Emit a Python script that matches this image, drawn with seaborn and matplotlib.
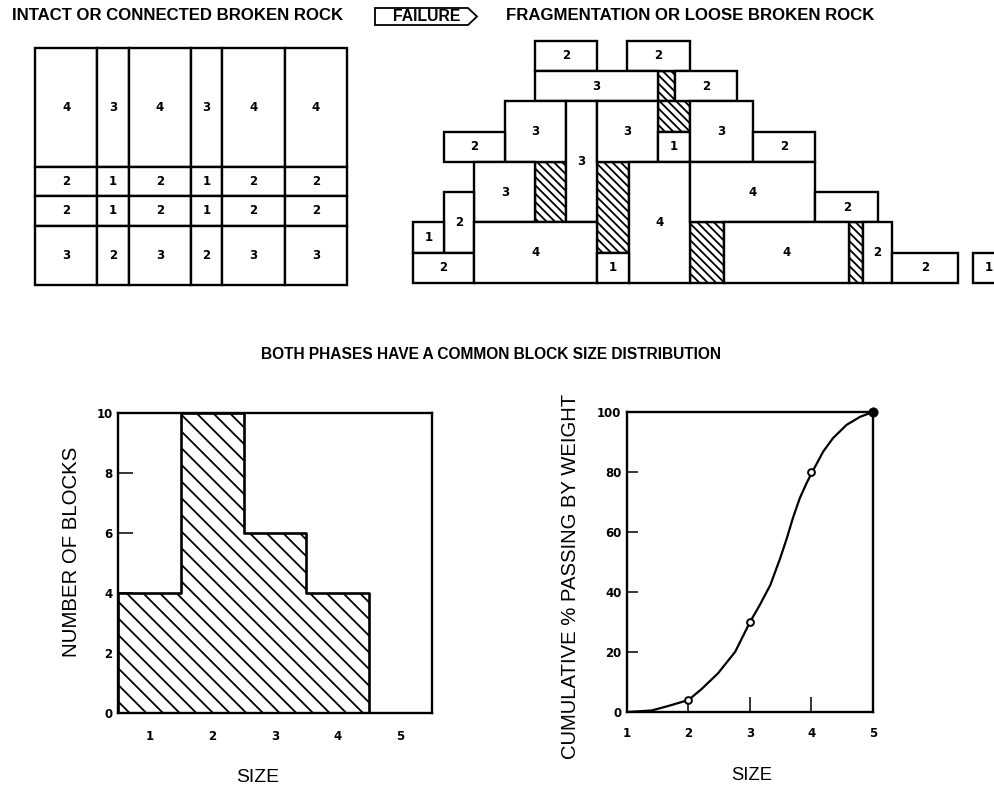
import numpy as np
import pandas as pd
import matplotlib
matplotlib.use("Agg")
import matplotlib.pyplot as plt
import seaborn as sns
from matplotlib.patches import Rectangle, Polygon

# ---------------- data ----------------
# intact rock mass: column widths / row heights (block units) and size class of each cell
intact_col_widths = [2, 1, 2, 1, 2, 2]
intact_row_heights = [4, 1, 1, 2]          # top to bottom
intact_labels = [[4, 3, 4, 3, 4, 4],
                 [2, 1, 2, 1, 2, 2],
                 [2, 1, 2, 1, 2, 2],
                 [3, 2, 3, 2, 3, 3]]

# loose broken rock: blocks (x, y, width, height in block units, size class)
loose_x = [4.0, 7.0, 4.0, 8.55, 3.0, 5.0, 6.0, 8.0, 9.05, 11.1, 1.0, 2.0,
           7.05, 9.05, 13.15, 1.0, 0.0, 0.0, 2.0, 6.0, 10.15, 14.7, 15.65, 18.3]
loose_y = [7, 7, 6, 6, 4, 2, 4, 4, 4, 4, 4, 2,
           0, 2, 2, 1, 1, 0, 0, 0, 0, 0, 0, 0]
loose_w = [2.0, 2.05, 4.0, 2.05, 2.0, 1.0, 2.0, 1.05, 2.05, 2.05, 2.0, 2.0,
           2.0, 4.1, 2.05, 1.0, 1.0, 2.0, 4.0, 1.05, 4.1, 0.95, 2.15, 1.0]
loose_h = [1, 1, 1, 1, 2, 4, 2, 1, 2, 1, 1, 2,
           4, 2, 1, 2, 1, 1, 2, 1, 2, 2, 1, 1]
loose_size = [2, 2, 3, 2, 3, 3, 3, 1, 3, 2, 2, 3,
              4, 4, 2, 2, 1, 2, 4, 1, 4, 2, 2, 1]
# voids between loose blocks
void_x = [8.0, 8.0, 4.0, 6.0, 9.05, 14.25]
void_y = [6, 5, 2, 1, 0, 0]
void_w = [0.55, 1.05, 1.0, 1.05, 1.1, 0.45]
void_h = [1, 1, 2, 3, 2, 2]

# block size distribution
size_classes = [1, 2, 3, 4, 5]
block_counts = [4, 10, 6, 4, 0]

# cumulative passing by weight
passing_size = [2, 3, 4, 5]
passing_pct = [4, 30, 80, 100]
passing_filled = [False, False, False, True]
curve_size = [1.0, 1.4, 1.67, 2.0, 2.21, 2.48, 2.76, 3.0, 3.16, 3.33, 3.49, 3.60,
              3.70, 3.81, 3.92, 4.02, 4.19, 4.35, 4.57, 4.79, 5.0]
curve_pct = [0, 0.5, 2.0, 4.0, 7.6, 12.9, 20.1, 30.0, 35.7, 42.3, 51.2, 58.0,
             64.8, 71.3, 76.3, 80.3, 86.8, 91.3, 95.7, 98.4, 100]

# ---------------- style ----------------
W, H = 995, 789
sns.set_theme(style="white")
plt.rcParams['font.family'] = ['Liberation Sans', 'DejaVu Sans']
plt.rcParams['hatch.linewidth'] = 1.3
plt.rcParams['hatch.color'] = 'black'
plt.rcParams['text.color'] = 'black'

fig = plt.figure(figsize=(W / 100, H / 100), dpi=100)
fig.patch.set_facecolor('white')


def px_rect(l, t, r, b):
    return [l / W, 1 - b / H, (r - l) / W, (b - t) / H]


renderer = fig.canvas.get_renderer()


def fit_text(x, y, s, target, rotation=0, **kw):
    t = fig.text(x / W, 1 - y / H, s, fontsize=10, rotation=rotation,
                 ha='center', va='center', color='black', **kw)
    bb = t.get_window_extent(renderer)
    cur = bb.height if rotation else bb.width
    t.set_fontsize(10 * target / cur)
    return t


LW = 1.7
NUMFONT = dict(fontsize=8.5, fontweight='bold', ha='center', va='center',
               family=['DejaVu Sans'], color='black')

# ---------------- intact grid ----------------
ax_int = fig.add_axes(px_rect(35, 48, 347, 285))
ax_int.set_xlim(0, sum(intact_col_widths))
ax_int.set_ylim(0, sum(intact_row_heights))
ax_int.axis('off')
ytop = sum(intact_row_heights)
for r, rh in enumerate(intact_row_heights):
    y0 = ytop - rh
    x0 = 0
    for c, cw in enumerate(intact_col_widths):
        ax_int.add_patch(Rectangle((x0, y0), cw, rh, facecolor='white',
                                   edgecolor='black', lw=LW, clip_on=False))
        ax_int.text(x0 + cw / 2, y0 + rh / 2, str(intact_labels[r][c]), **NUMFONT)
        x0 += cw
    ytop = y0

# ---------------- loose blocks ----------------
ax_l = fig.add_axes(px_rect(409.9, 37.6, 995, 286))
ax_l.set_xlim(-0.1, 19.02)
ax_l.set_ylim(-0.1, 8.1)
ax_l.axis('off')
for x, y, w, h in zip(void_x, void_y, void_w, void_h):
    ax_l.add_patch(Rectangle((x, y), w, h, facecolor='white', edgecolor='black',
                             hatch='\\\\\\\\', lw=LW))
for x, y, w, h, s in zip(loose_x, loose_y, loose_w, loose_h, loose_size):
    ax_l.add_patch(Rectangle((x, y), w, h, facecolor='white', edgecolor='black', lw=LW))
    t = ax_l.text(x + w / 2, y + h / 2, str(s), **NUMFONT)
    t.set_clip_on(True)

# ---------------- headings ----------------
fit_text((12 + 343) / 2, 16, "INTACT OR CONNECTED BROKEN ROCK", 331, fontweight='bold')
fit_text((507 + 874) / 2, 16, "FRAGMENTATION OR LOOSE BROKEN ROCK", 367, fontweight='bold')
fit_text((260 + 722) / 2, 354, "BOTH PHASES HAVE A COMMON BLOCK SIZE DISTRIBUTION", 462,
         fontweight='bold')
arrow_px = [(375, 8), (468, 8), (477, 16.5), (468, 25), (375, 25)]
fig.patches.append(Polygon([(px / W, 1 - py / H) for px, py in arrow_px], closed=True,
                           facecolor='white', edgecolor='black', lw=1.3,
                           transform=fig.transFigure, figure=fig))
fit_text((393 + 460) / 2, 16.5, "FAILURE", 67, fontweight='bold')

# ---------------- histogram ----------------
ax_h = fig.add_axes(px_rect(118, 413, 432, 713))
hist_df = pd.DataFrame({'size': size_classes, 'count': block_counts})
sns.histplot(data=hist_df, x='size', weights='count', discrete=True,
             element='step', fill=True, color='white', alpha=1, edgecolor='black',
             linewidth=1.9, ax=ax_h)
for coll in ax_h.collections:
    coll.set_hatch('\\\\')
    coll.set_facecolor('white')
    coll.set_edgecolor('black')
for ln in ax_h.lines:
    ln.set_color('black')
ax_h.set_xlim(0.5, 5.5)
ax_h.set_ylim(0, 10)
ax_h.set_xticks(size_classes)
ax_h.set_xticks([1.5, 2.5, 3.5, 4.5], minor=True)
ax_h.set_yticks([0, 2, 4, 6, 8, 10])
ax_h.tick_params(axis='y', direction='in', length=11, width=1.3, pad=4, left=True)
ax_h.tick_params(axis='x', which='major', length=0, pad=12, bottom=True)
ax_h.tick_params(axis='x', which='minor', direction='in', length=6, width=1.3, bottom=True)
ax_h.set_xlabel('')
ax_h.set_ylabel('')

# ---------------- cumulative curve ----------------
ax_c = fig.add_axes(px_rect(627, 412, 873, 712))
sns.lineplot(x=curve_size, y=curve_pct, color='black', lw=1.6, sort=False, ax=ax_c,
             solid_joinstyle='round')
pts = pd.DataFrame({'size': passing_size, 'pct': passing_pct, 'filled': passing_filled})
sns.scatterplot(data=pts[~pts.filled], x='size', y='pct', s=24, facecolor='white',
                edgecolor='black', linewidth=1.4, zorder=4, clip_on=False, ax=ax_c)
sns.scatterplot(data=pts[pts.filled], x='size', y='pct', s=45, color='black',
                edgecolor='black', zorder=4, clip_on=False, ax=ax_c)
ax_c.set_xlim(1, 5)
ax_c.set_ylim(0, 100)
ax_c.set_xticks([1, 2, 3, 4, 5])
ax_c.set_yticks([0, 20, 40, 60, 80, 100])
ax_c.tick_params(axis='y', direction='in', length=8, width=1.3, pad=4, left=True)
ax_c.tick_params(axis='x', direction='in', length=11, width=1.3, pad=11, bottom=True)
ax_c.set_xlabel('')
ax_c.set_ylabel('')

for ax in (ax_h, ax_c):
    for sp in ax.spines.values():
        sp.set_color('black')
        sp.set_linewidth(1.7)
        sp.set_visible(True)
    for lab in ax.get_xticklabels() + ax.get_yticklabels():
        lab.set_fontweight('bold')
        lab.set_fontsize(8.5)
        lab.set_family(['DejaVu Sans'])
        lab.set_color('black')

fit_text(72, 552, "NUMBER OF BLOCKS", 211, rotation=90)
fit_text(258, 777, "SIZE", 43)
fit_text(571, 576, "CUMULATIVE % PASSING BY WEIGHT", 367, rotation=90)
fit_text(752, 775, "SIZE", 41)

fig.savefig("out.png", dpi=100, facecolor='white')
